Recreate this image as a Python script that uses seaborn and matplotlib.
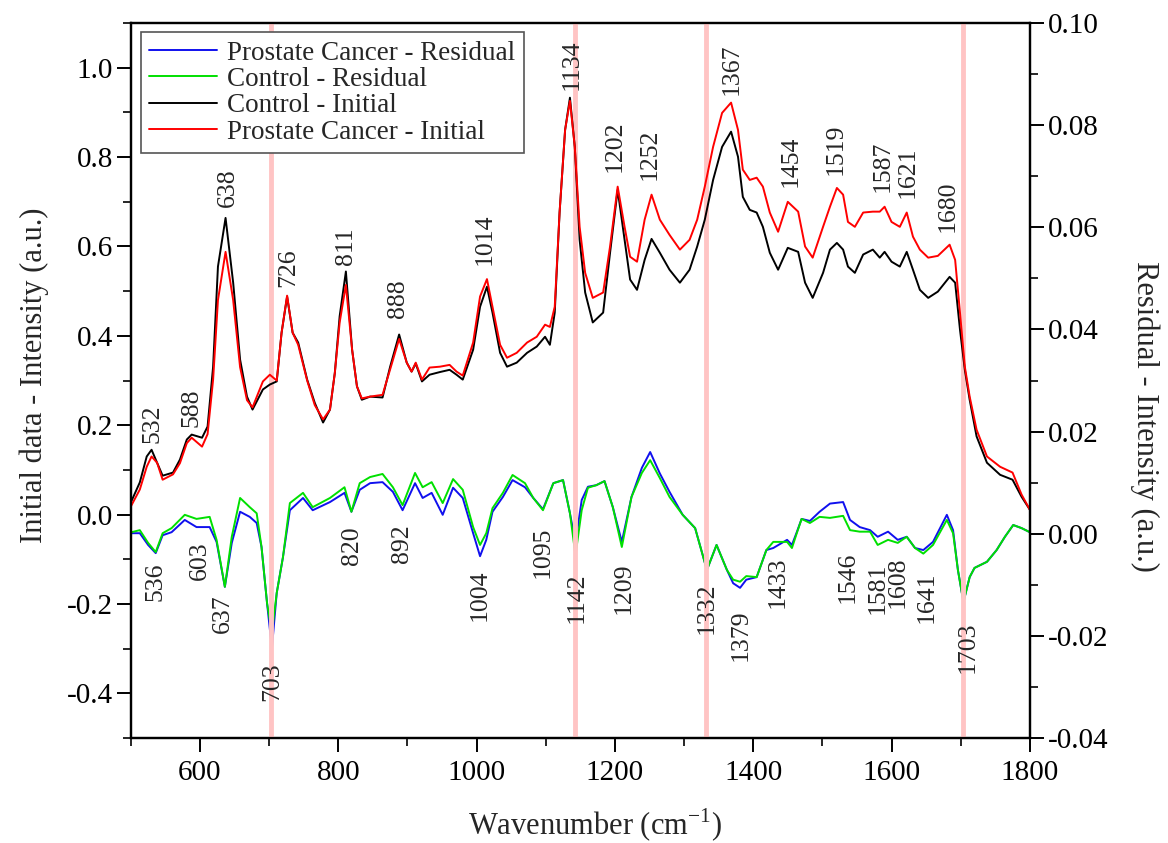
import numpy as np
import pandas as pd
import matplotlib
matplotlib.use("Agg")
import matplotlib.pyplot as plt
from matplotlib.ticker import MultipleLocator, FormatStrFormatter
import seaborn as sns

# ---------------- data ----------------
wn_initial = [500, 513, 523, 530, 538, 546, 561, 571, 581, 588, 603, 611, 619, 626, 637,
              648, 658, 668, 676, 691, 701, 711, 718, 726, 734, 742, 755, 766, 778, 788,
              795, 802, 811, 820, 827, 834, 846, 864, 875, 888, 899, 906, 912, 921, 932,
              947, 961, 971, 980, 995, 1005, 1015, 1023, 1034, 1044, 1058, 1073, 1087, 1099, 1106,
              1113, 1120, 1128, 1135, 1142, 1149, 1157, 1168, 1183, 1193, 1204, 1214, 1222, 1232, 1243,
              1253, 1265, 1279, 1294, 1308, 1319, 1330, 1342, 1355, 1368, 1378, 1385, 1395, 1405, 1414,
              1424, 1436, 1450, 1465, 1475, 1486, 1501, 1511, 1521, 1530, 1537, 1547, 1559, 1573, 1583,
              1590, 1600, 1612, 1622, 1631, 1641, 1653, 1667, 1684, 1692, 1699, 1706, 1713, 1723, 1738,
              1757, 1775, 1788, 1800]
control_initial = [0.027, 0.072, 0.130, 0.145, 0.116, 0.087, 0.094, 0.123, 0.168, 0.179, 0.172, 0.197, 0.331, 0.555, 0.664,
                   0.519, 0.347, 0.264, 0.235, 0.280, 0.291, 0.298, 0.407, 0.488, 0.407, 0.385, 0.302, 0.250, 0.206, 0.235,
                   0.317, 0.444, 0.544, 0.369, 0.287, 0.257, 0.264, 0.262, 0.331, 0.403, 0.340, 0.320, 0.338, 0.298, 0.313,
                   0.319, 0.324, 0.313, 0.302, 0.369, 0.465, 0.510, 0.452, 0.362, 0.331, 0.340, 0.362, 0.376, 0.398, 0.380,
                   0.452, 0.676, 0.861, 0.933, 0.823, 0.615, 0.497, 0.430, 0.452, 0.586, 0.727, 0.615, 0.526, 0.503, 0.570,
                   0.617, 0.586, 0.548, 0.519, 0.548, 0.600, 0.660, 0.749, 0.823, 0.857, 0.801, 0.711, 0.682, 0.676, 0.644,
                   0.586, 0.548, 0.597, 0.588, 0.519, 0.485, 0.541, 0.593, 0.608, 0.593, 0.555, 0.541, 0.582, 0.593, 0.575,
                   0.588, 0.566, 0.555, 0.588, 0.548, 0.503, 0.485, 0.499, 0.532, 0.519, 0.414, 0.324, 0.257, 0.175, 0.116,
                   0.089, 0.078, 0.040, 0.011]
cancer_initial = [0.018, 0.056, 0.107, 0.130, 0.116, 0.078, 0.090, 0.115, 0.160, 0.172, 0.152, 0.180, 0.302, 0.480, 0.588,
                  0.480, 0.330, 0.256, 0.240, 0.298, 0.313, 0.300, 0.407, 0.490, 0.407, 0.380, 0.300, 0.245, 0.213, 0.235,
                  0.317, 0.430, 0.514, 0.369, 0.287, 0.260, 0.264, 0.268, 0.325, 0.393, 0.340, 0.320, 0.340, 0.302, 0.329,
                  0.331, 0.335, 0.320, 0.311, 0.385, 0.488, 0.527, 0.465, 0.380, 0.351, 0.362, 0.385, 0.398, 0.425, 0.420,
                  0.465, 0.676, 0.861, 0.926, 0.823, 0.644, 0.541, 0.485, 0.497, 0.600, 0.734, 0.644, 0.577, 0.566, 0.660,
                  0.716, 0.660, 0.626, 0.593, 0.615, 0.660, 0.734, 0.823, 0.899, 0.922, 0.861, 0.772, 0.749, 0.754, 0.734,
                  0.676, 0.633, 0.700, 0.678, 0.600, 0.575, 0.644, 0.689, 0.731, 0.716, 0.655, 0.644, 0.676, 0.678, 0.678,
                  0.689, 0.655, 0.644, 0.676, 0.622, 0.593, 0.575, 0.579, 0.604, 0.570, 0.452, 0.331, 0.264, 0.190, 0.130,
                  0.107, 0.094, 0.045, 0.011]

wn_residual = [501, 513, 525, 536, 546, 559, 578, 595, 614, 624, 636, 646, 658, 672, 682,
               689, 697, 704, 711, 720, 730, 749, 763, 788, 809, 819, 831, 846, 864, 879,
               893, 911, 922, 935, 951, 966, 980, 995, 1005, 1014, 1023, 1038, 1052, 1070, 1082,
               1096, 1111, 1125, 1135, 1143, 1152, 1161, 1173, 1185, 1197, 1210, 1224, 1239, 1251, 1265,
               1279, 1298, 1316, 1333, 1347, 1362, 1371, 1381, 1390, 1405, 1419, 1429, 1449, 1456, 1463,
               1470, 1482, 1496, 1511, 1530, 1540, 1554, 1569, 1580, 1595, 1609, 1622, 1634, 1646, 1660,
               1680, 1689, 1696, 1704, 1713, 1720, 1738, 1752, 1764, 1776, 1788, 1800]
cancer_residual = [0.0001, 0.0001, -0.0022, -0.0038, -0.0003, 0.0003, 0.0027, 0.0013, 0.0013, -0.0016, -0.0104, -0.0018, 0.0043, 0.0033, 0.0021,
                   -0.0026, -0.0136, -0.0224, -0.0116, -0.0046, 0.0046, 0.0070, 0.0046, 0.0062, 0.0080, 0.0043, 0.0086, 0.0099, 0.0101, 0.0082,
                   0.0046, 0.0099, 0.0070, 0.0080, 0.0037, 0.0090, 0.0070, 0.0001, -0.0044, -0.0012, 0.0043, 0.0072, 0.0105, 0.0091, 0.0070,
                   0.0048, 0.0099, 0.0105, 0.0040, -0.0018, 0.0066, 0.0092, 0.0095, 0.0103, 0.0052, -0.0016, 0.0072, 0.0129, 0.0160, 0.0118,
                   0.0082, 0.0037, 0.0011, -0.0071, -0.0022, -0.0071, -0.0097, -0.0106, -0.0090, -0.0085, -0.0032, -0.0028, -0.0012, -0.0022, 0.0003,
                   0.0029, 0.0025, 0.0043, 0.0059, 0.0062, 0.0027, 0.0013, 0.0007, -0.0006, 0.0004, -0.0012, -0.0006, -0.0028, -0.0032, -0.0016,
                   0.0037, 0.0007, -0.0071, -0.0134, -0.0085, -0.0067, -0.0055, -0.0032, -0.0006, 0.0017, 0.0011, 0.0003]
control_residual = [0.0003, 0.0007, -0.0018, -0.0036, 0.0001, 0.0011, 0.0037, 0.0029, 0.0033, -0.0012, -0.0104, -0.0006, 0.0070, 0.0052, 0.0040,
                    -0.0026, -0.0136, -0.0194, -0.0116, -0.0046, 0.0060, 0.0080, 0.0052, 0.0070, 0.0091, 0.0043, 0.0099, 0.0111, 0.0117, 0.0091,
                    0.0056, 0.0119, 0.0091, 0.0101, 0.0060, 0.0107, 0.0086, 0.0013, -0.0022, 0.0001, 0.0050, 0.0080, 0.0115, 0.0099, 0.0070,
                    0.0046, 0.0099, 0.0105, 0.0040, -0.0042, 0.0046, 0.0090, 0.0095, 0.0103, 0.0052, -0.0026, 0.0072, 0.0119, 0.0144, 0.0109,
                    0.0072, 0.0037, 0.0011, -0.0071, -0.0022, -0.0071, -0.0090, -0.0094, -0.0083, -0.0085, -0.0032, -0.0016, -0.0016, -0.0028, 0.0001,
                    0.0029, 0.0021, 0.0033, 0.0031, 0.0035, 0.0007, 0.0004, 0.0004, -0.0022, -0.0012, -0.0018, -0.0006, -0.0028, -0.0039, -0.0022,
                    0.0027, 0.0001, -0.0071, -0.0134, -0.0085, -0.0067, -0.0055, -0.0032, -0.0006, 0.0017, 0.0011, 0.0003]

highlight_wn = [703, 1142, 1332, 1703]

# peak labels above the initial spectra (y = text bottom, left axis units)
peak_labels = ["532", "588", "638", "726", "811", "888", "1014", "1134", "1202", "1252",
               "1367", "1454", "1519", "1587", "1621", "1680"]
peak_x = [531, 588, 640, 728, 811, 886, 1012, 1138, 1200, 1251, 1369, 1454, 1519, 1587, 1623, 1681]
peak_y = [0.161, 0.197, 0.689, 0.510, 0.559, 0.440, 0.559, 0.951, 0.767, 0.749, 0.940, 0.734, 0.761, 0.723, 0.709, 0.633]

# dip labels below the residual spectra (y = text top, left axis units)
dip_labels = ["536", "603", "637", "703", "820", "892", "1004", "1095", "1142", "1209",
              "1332", "1379", "1433", "1546", "1581", "1608", "1641", "1703"]
dip_x = [535, 600, 633, 705, 820, 892, 1005, 1096, 1145, 1212, 1333, 1382, 1436, 1537, 1580, 1609, 1651, 1710]
dip_y = [-0.107, -0.060, -0.179, -0.331, -0.027, -0.022, -0.123, -0.027, -0.130, -0.107,
         -0.152, -0.213, -0.094, -0.083, -0.107, -0.094, -0.128, -0.239]

# ---------------- figure ----------------
sns.set_theme(style="white")
plt.rcParams['font.family'] = ['Liberation Serif', 'DejaVu Serif']
plt.rcParams['mathtext.fontset'] = 'custom'
plt.rcParams['mathtext.rm'] = 'Liberation Serif'

fig = plt.figure(figsize=(11.68, 8.43), dpi=100)
ax = fig.add_axes([0.112, 0.1246, 0.7697, 0.848])
ax2 = ax.twinx()

df_init = pd.DataFrame({"wn": wn_initial, "control": control_initial, "cancer": cancer_initial})
df_res = pd.DataFrame({"wn": wn_residual, "control": control_residual, "cancer": cancer_residual})

for xv in highlight_wn:
    ax.axvline(xv, color="#ffc4c4", lw=3.5, zorder=0)

lw = 1.4
sns.lineplot(data=df_res, x="wn", y="cancer", ax=ax2, color="#1010ee", lw=lw,
             label="Prostate Cancer - Residual", legend=False)
sns.lineplot(data=df_res, x="wn", y="control", ax=ax2, color="#00e000", lw=lw,
             label="Control - Residual", legend=False)
sns.lineplot(data=df_init, x="wn", y="control", ax=ax, color="black", lw=lw,
             label="Control - Initial", legend=False)
sns.lineplot(data=df_init, x="wn", y="cancer", ax=ax, color="#ff0000", lw=lw,
             label="Prostate Cancer - Initial", legend=False)

ax.set_xlim(500, 1800)
ax.set_ylim(-0.5, 1.1)
ax2.set_ylim(-0.04, 0.10)

fs_tick = 21
ax.set_xticks([600, 800, 1000, 1200, 1400, 1600, 1800])
ax.xaxis.set_minor_locator(MultipleLocator(100))
ax.yaxis.set_major_locator(MultipleLocator(0.2))
ax.yaxis.set_minor_locator(MultipleLocator(0.1))
ax.yaxis.set_major_formatter(FormatStrFormatter("%.1f"))
ax2.yaxis.set_major_locator(MultipleLocator(0.02))
ax2.yaxis.set_minor_locator(MultipleLocator(0.01))
ax2.yaxis.set_major_formatter(FormatStrFormatter("%.2f"))

ax.tick_params(axis="both", which="major", direction="out", length=10, width=1.4,
               labelsize=fs_tick, colors="black", bottom=True, left=True, top=False, right=False)
ax.tick_params(axis="both", which="minor", direction="out", length=5.5, width=1.4,
               bottom=True, left=True, top=False, right=False)
ax2.tick_params(axis="y", which="major", direction="out", length=10, width=1.4,
                labelsize=fs_tick, right=True, left=False, colors="black")
ax2.tick_params(axis="y", which="minor", direction="out", length=5.5, width=1.4, right=True, left=False)
ax.tick_params(axis="x", pad=6)
ax.tick_params(axis="y", pad=3)
ax2.tick_params(axis="y", pad=3)

for a in (ax, ax2):
    for s in a.spines.values():
        s.set_color("black")
        s.set_linewidth(1.6)

fs_lab = 22
ax.set_xlabel("Wavenumber (cm$^{-1}$)", fontsize=fs_lab, va="center", ha="center")
ax.xaxis.set_label_coords(0.516, -0.123)
ax.set_ylabel("Initial data - Intensity (a.u.)", fontsize=fs_lab, va="center", ha="center")
ax.yaxis.set_label_coords(-0.107, 0.508)
ax2.set_ylabel("Residual - Intensity (a.u.)", fontsize=fs_lab, rotation=270, va="center", ha="center")
ax2.yaxis.set_label_coords(1.128, 0.45)

fs_ann = 18.5
for t, xv, yv in zip(peak_labels, peak_x, peak_y):
    ax.text(xv, yv, t, rotation=90, ha="center", va="bottom", fontsize=fs_ann, zorder=5)
for t, xv, yv in zip(dip_labels, dip_x, dip_y):
    ax.text(xv, yv, t, rotation=90, ha="center", va="top", fontsize=fs_ann, zorder=5)

h1, lab1 = ax2.get_legend_handles_labels()
h2, lab2 = ax.get_legend_handles_labels()
leg = ax.legend(h1 + h2, lab1 + lab2, loc="upper left", bbox_to_anchor=(0.011, 0.987),
                fontsize=19.5, frameon=True, fancybox=False, framealpha=1, edgecolor="#555555",
                handlelength=2.5, handletextpad=0.4, labelspacing=0.05, borderpad=0.3,
                borderaxespad=0.0)
leg.get_frame().set_linewidth(1.2)
leg.set_zorder(10)
ax2.set_zorder(ax.get_zorder() - 1)
ax.patch.set_visible(False)
ax2.patch.set_visible(True)
ax2.patch.set_facecolor("white")

fig.savefig("out.png", dpi=100)
